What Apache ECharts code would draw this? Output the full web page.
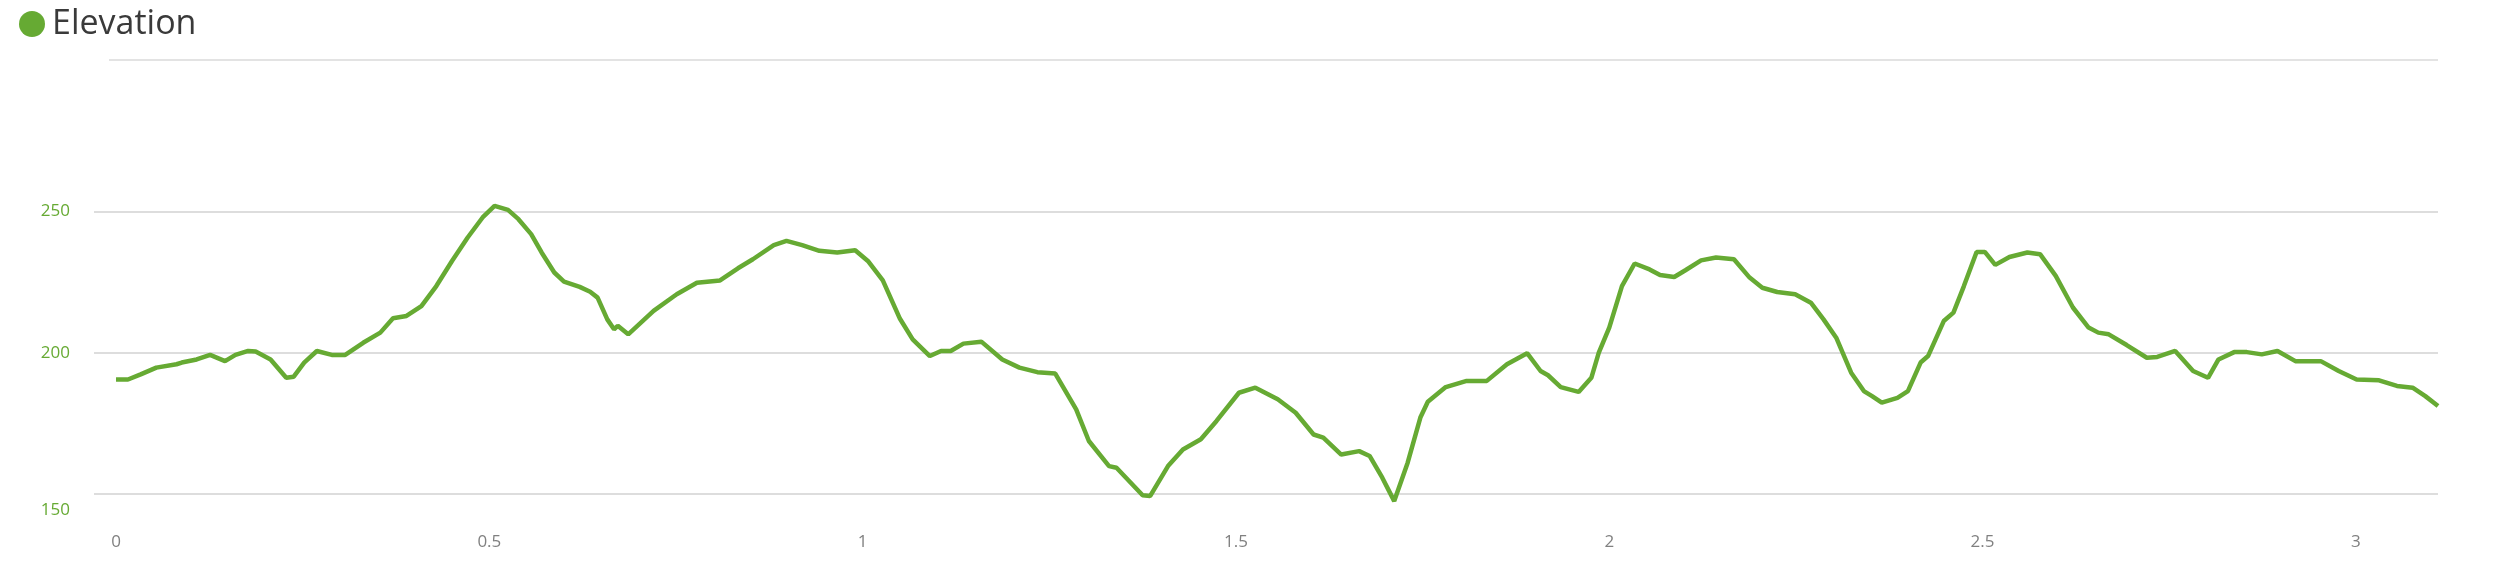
<!DOCTYPE html>
<html>
<head>
<meta charset="utf-8">
<script src="https://cdn.jsdelivr.net/npm/echarts@6/dist/echarts.min.js"></script>
<style>
html,body{margin:0;padding:0;background:#fff;}
#chart{width:2500px;height:564px;}
</style>
</head>
<body>
<div id="chart"></div>
<script>
const seriesName = 'Elevation';
const distance = [0,0.016,0.033,0.054,0.081,0.088,0.108,0.126,0.146,0.160,0.177,0.187,0.207,0.228,0.238,0.252,0.269,0.289,0.307,0.331,0.354,0.371,0.389,0.409,0.429,0.450,0.471,0.491,0.507,0.525,0.539,0.556,0.570,0.587,0.600,0.621,0.635,0.645,0.658,0.667,0.672,0.686,0.720,0.751,0.778,0.809,0.833,0.853,0.881,0.898,0.919,0.942,0.966,0.990,1.007,1.027,1.050,
1.067,1.090,1.105,1.118,1.135,1.159,1.187,1.210,1.234,1.258,1.286,1.303,1.330,1.340,1.375,1.385,1.409,1.429,1.453,1.474,1.504,1.526,1.556,1.580,1.604,1.617,1.641,1.665,1.679,1.696,1.712,1.730,1.747,1.757,1.781,1.809,1.836,1.863,1.890,1.908,1.918,1.935,1.959,1.976,1.986,2.000,2.017,2.034,
2.054,2.068,2.087,2.102,2.123,2.143,2.167,2.188,2.205,2.225,2.249,2.270,2.287,2.304,2.324,2.341,2.352,2.365,2.386,2.400,2.417,2.427,2.448,2.461,2.475,2.492,2.503,2.517,2.536,2.560,2.577,2.598,2.621,2.642,2.655,2.669,2.693,2.720,2.734,2.758,2.782,2.802,2.816,2.837,2.854,2.874,2.895,2.919,2.953,2.977,3.001,3.031,3.055,3.076,3.093,3.110];
const elevation = [190.5,190.5,192.3,194.7,195.9,196.5,197.6,199.2,197.0,199.2,200.6,200.4,197.6,191.1,191.5,196.5,200.6,199.2,199.2,203.5,207.1,212.2,213.0,216.5,223.6,232.5,240.8,247.9,252.0,250.6,247.3,242.0,235.5,228.4,225.2,223.3,221.6,219.5,211.8,208.3,209.5,206.5,214.8,220.7,224.8,225.6,229.9,233.1,238.1,239.6,238.1,236.1,235.5,236.3,232.5,225.6,212.0,
204.7,198.8,200.6,200.6,203.2,203.9,197.6,194.7,193.1,192.6,179.9,168.7,159.8,159.2,149.5,149.2,159.8,165.7,169.3,175.8,185.8,187.6,183.5,178.7,171.0,169.9,163.9,165.1,163.4,155.7,147.4,161.0,177.0,182.6,187.8,190.0,190.0,195.9,199.8,193.5,192.0,187.8,186.1,191.1,200.0,208.9,223.6,231.6,
229.5,227.5,226.8,229.2,232.7,233.7,233.1,226.6,223.0,221.5,220.7,217.7,211.8,205.3,192.9,186.4,184.6,182.3,184.0,186.4,196.5,198.8,211.2,214.2,223.6,235.7,235.7,231.1,233.9,235.5,234.9,227.2,216.0,208.9,207.1,206.5,202.7,198.2,198.5,200.6,193.5,191.1,197.6,200.2,200.2,199.4,200.6,197.0,197.0,193.5,190.5,190.2,188.2,187.6,184.6,181.1];
const xTicks = [0,0.5,1,1.5,2,2.5,3];
const yTicks = [150,200,250];

const chart = echarts.init(document.getElementById('chart'));
const green = '#66aa33';
chart.setOption({
  animation:false,
  backgroundColor:'#ffffff',
  textStyle:{fontFamily:'Open Sans'},
  legend:{
    show:true, left:14, top:2, icon:'circle', itemWidth:26, itemHeight:26, itemGap:10,
    textStyle:{fontSize:34, color:'#3a3a3a', fontFamily:'Open Sans', padding:[0,0,0,2]},
    data:[{name:seriesName, itemStyle:{color:green}}]
  },
  graphic:[{type:'rect', left:109, top:59, shape:{width:2329, height:2}, style:{fill:'#e3e3e3'}, silent:true}],
  grid:{left:94, right:62, top:60, bottom:42},
  xAxis:{
    type:'value', min:-0.0295, max:3.11,
    axisLine:{show:false}, axisTick:{show:false, customValues:xTicks}, splitLine:{show:false},
    axisLabel:{customValues:xTicks, color:'#808080', fontSize:17, margin:12, formatter:v=>String(v)}
  },
  yAxis:{
    type:'value', min:140, max:303.7,
    axisLine:{show:false}, axisTick:{show:false, customValues:yTicks},
    splitLine:{show:true, lineStyle:{color:'#dddddd', width:2}},
    axisLabel:{customValues:yTicks, color:green, fontSize:17, margin:24,
      formatter:v=>'{t'+v+'|'+v+'}',
      rich:{t150:{padding:[32,0,0,0], color:green, fontSize:17}, t200:{color:green, fontSize:17}, t250:{color:green, fontSize:17}}}
  },
  series:[{
    name:seriesName, type:'line', showSymbol:false, smooth:false,
    lineStyle:{color:green, width:4.5}, itemStyle:{color:green},
    data: distance.map((d,i)=>[d, elevation[i]])
  }]
});
</script>
</body>
</html>
